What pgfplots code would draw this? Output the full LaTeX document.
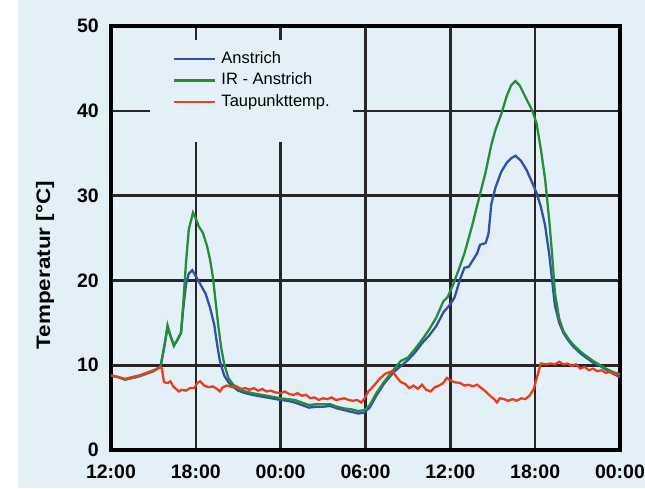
\documentclass[border=0pt]{standalone}
\usepackage{pgfplots}
\pgfplotsset{compat=1.18}
\usepackage{fontspec}
\setmainfont{Liberation Sans}
\definecolor{bgblue}{RGB}{228,240,248}
\definecolor{cblue}{RGB}{48,80,170}
\definecolor{cgreen}{RGB}{38,140,58}
\definecolor{cred}{RGB}{232,62,32}
\begin{document}
\begin{tikzpicture}[x=1pt,y=1pt]
\path[use as bounding box] (-111,-38) rectangle (534,450);
\fill[white] (-111,-38) rectangle (-93,450);
\fill[bgblue] (-93,-38) rectangle (534,450);
\begin{axis}[
  at={(0,0)}, anchor=south west,
  scale only axis, width=509pt, height=424pt,
  xmin=0, xmax=36, ymin=0, ymax=50,
  xtick={0,6,...,36},
  xticklabels={12:00,18:00,00:00,06:00,12:00,18:00,00:00},
  ytick={0,10,...,50},
  grid=major,
  grid style={black!85, line width=2.6pt},
  every major grid/.append style={black!85, line width=2.6pt},
  axis line style={black, line width=3.2pt},
  tick style={black!85, line width=2.6pt},
  tick align=inside, major tick length=12pt,
  /pgf/number format/assume math mode=true,
  ticklabel style={font=\bfseries\fontsize{19.5}{19.5}\selectfont, inner sep=0pt},
  yticklabel style={xshift=-12pt},
  xticklabel style={yshift=-15pt},
  every axis y label/.style={at={(axis description cs:-0.1297,0.436)}, rotate=90, anchor=center},
  ylabel={\bfseries\fontsize{19.5}{19.5}\selectfont\scalebox{1.15}[1]{Temperatur [°C]}},
  legend image code/.code={\draw[#1] (0pt,0pt) -- (41pt,0pt);},
  legend style={at={(axis description cs:0.0766,0.967)}, anchor=north west,
    fill=bgblue, draw=none, inner xsep=23pt, inner ysep=11pt,
    row sep=6pt, column sep=5pt,
    nodes={inner sep=0pt, text height=12pt, text depth=3.5pt},
    font=\fontsize{16.5}{16.5}\selectfont},
  legend cell align=left,
]
\addplot[cblue, line width=2.3pt] coordinates {
(0,8.8)(0.5,8.6)(1,8.3)(1.5,8.5)(2,8.7)(2.5,9.0)(3,9.3)(3.5,9.8)(3.8,12.5)(4.0,14.5)(4.2,13.5)(4.45,12.3)(4.7,13.0)(4.95,13.8)(5.1,16.5)(5.3,19.5)(5.5,20.8)(5.75,21.2)(6.0,20.5)(6.3,19.6)(6.7,18.4)(7.0,16.8)(7.3,14.8)(7.5,12.5)(7.7,10.5)(8.0,8.8)(8.3,8.0)(8.6,7.5)(9.0,7.0)(9.5,6.7)(10.0,6.5)(11.0,6.2)(12.0,5.9)(12.5,5.8)(13.0,5.6)(13.5,5.3)(14.0,5.0)(14.5,5.1)(15.0,5.1)(15.5,5.2)(16.0,4.9)(16.5,4.7)(17.0,4.5)(17.5,4.3)(17.9,4.4)(18.3,5.0)(18.8,6.5)(19.3,7.8)(20.0,9.2)(20.5,9.9)(21.0,10.6)(21.5,11.5)(22.0,12.6)(22.5,13.5)(23.0,14.6)(23.5,16.2)(24.0,17.2)(24.3,18.0)(24.7,20.2)(25.0,21.5)(25.3,21.6)(25.6,22.4)(25.9,23.2)(26.1,24.2)(26.5,24.4)(26.7,25.5)(26.9,29.0)(27.2,31.0)(27.6,32.8)(28.0,33.9)(28.3,34.4)(28.6,34.7)(29.0,34.1)(29.4,33.0)(29.8,31.5)(30.1,30.3)(30.4,28.7)(30.7,26.5)(31.0,23.0)(31.2,20.0)(31.4,17.0)(31.7,15.0)(32.0,13.8)(32.4,12.8)(32.7,12.2)(33.2,11.4)(33.6,10.9)(34.1,10.3)(34.6,9.9)(35.0,9.5)(35.5,9.0)(36,8.6)
};
\addlegendentry{Anstrich}
\addplot[cgreen, line width=2.3pt] coordinates {
(0,8.8)(0.5,8.6)(1,8.3)(1.5,8.5)(2,8.7)(2.5,9.0)(3,9.3)(3.5,9.8)(3.8,12.5)(4.0,14.7)(4.2,13.5)(4.45,12.3)(4.7,13.0)(4.95,13.8)(5.1,17)(5.3,22)(5.5,26.0)(5.8,28.0)(6.0,27.3)(6.2,26.4)(6.5,25.6)(6.8,24.0)(7.0,22.5)(7.2,20.5)(7.4,17.5)(7.6,14.5)(7.8,12.0)(8.0,10.2)(8.3,8.5)(8.6,7.8)(9.0,7.2)(9.5,6.9)(10.0,6.7)(11.0,6.4)(12.0,6.1)(12.5,6.0)(13.0,5.9)(13.5,5.6)(14.0,5.3)(14.5,5.4)(15.0,5.4)(15.5,5.4)(16.0,5.1)(16.5,4.9)(17.0,4.8)(17.5,4.6)(17.9,4.7)(18.3,5.3)(18.8,6.8)(19.3,8.0)(20.0,9.5)(20.5,10.5)(21.0,10.9)(21.5,11.9)(22.0,13.0)(22.5,14.2)(23.0,15.6)(23.5,17.5)(23.8,18.0)(24.2,19.5)(24.6,21.3)(25.0,23.2)(25.5,26.2)(26.0,29.5)(26.5,32.8)(26.9,36.0)(27.2,37.8)(27.6,39.6)(28.0,41.8)(28.3,43.0)(28.6,43.5)(28.9,43.0)(29.2,42.0)(29.5,41.0)(29.8,40.0)(30.1,38.5)(30.4,35.5)(30.7,32.0)(31.0,27.0)(31.2,23.0)(31.4,18.5)(31.7,15.5)(32.0,14.0)(32.4,13.0)(32.7,12.4)(33.2,11.6)(33.6,11.1)(34.1,10.5)(34.6,10.0)(35.0,9.6)(35.5,9.2)(36,8.9)
};
\addlegendentry{IR - Anstrich}
\addplot[cred, line width=2.3pt] coordinates {
(0,8.8)(0.5,8.6)(1,8.4)(1.5,8.6)(2,8.8)(2.5,9.1)(3,9.4)(3.5,9.8)(3.6,9.6)(3.75,8.0)(4.0,7.9)(4.2,8.1)(4.4,7.5)(4.6,7.2)(4.8,6.9)(5.0,7.1)(5.3,7.0)(5.6,7.3)(5.9,7.3)(6.1,7.9)(6.3,8.1)(6.6,7.6)(6.9,7.4)(7.2,7.5)(7.5,7.2)(7.7,6.9)(7.9,7.4)(8.2,7.6)(8.6,7.4)(8.9,7.5)(9.2,7.2)(9.5,7.3)(9.8,7.1)(10.1,7.3)(10.4,7.0)(10.7,7.2)(11.0,6.9)(11.3,7.0)(11.6,6.8)(12.0,6.7)(12.3,6.9)(12.6,6.6)(12.9,6.5)(13.2,6.7)(13.5,6.4)(13.8,6.5)(14.1,6.1)(14.4,6.2)(14.7,5.9)(15.0,6.1)(15.3,6.0)(15.6,6.2)(15.9,5.9)(16.2,6.0)(16.5,6.1)(16.8,5.9)(17.1,5.8)(17.4,5.9)(17.7,5.6)(17.9,6.0)(18.2,6.9)(18.6,7.6)(19.0,8.4)(19.4,9.0)(19.9,9.3)(20.2,8.6)(20.5,8.0)(20.8,7.8)(21.1,7.3)(21.4,7.6)(21.7,7.2)(22.0,7.7)(22.3,7.1)(22.6,6.9)(22.9,7.4)(23.2,7.6)(23.5,7.9)(23.75,8.5)(24.0,8.2)(24.3,8.0)(24.7,7.9)(25.0,7.6)(25.3,7.7)(25.6,7.5)(25.9,7.7)(26.2,7.3)(26.5,6.9)(26.8,6.4)(27.1,6.0)(27.3,5.6)(27.5,6.1)(27.8,6.0)(28.1,5.8)(28.4,6.0)(28.7,5.8)(29.0,6.1)(29.3,6.0)(29.6,6.4)(29.9,7.2)(30.2,9.0)(30.4,10.2)(30.8,10.1)(31.1,10.2)(31.4,10.1)(31.7,10.4)(32.0,10.1)(32.3,10.2)(32.6,9.9)(32.9,10.1)(33.2,9.6)(33.5,9.8)(33.8,9.4)(34.1,9.6)(34.4,9.3)(34.7,9.4)(35.0,9.1)(35.3,9.2)(35.6,8.9)(36,9.0)
};
\addlegendentry{Taupunkttemp.}
\addlegendimage{empty legend}
\addlegendentry{}
\end{axis}
\end{tikzpicture}
\end{document}
